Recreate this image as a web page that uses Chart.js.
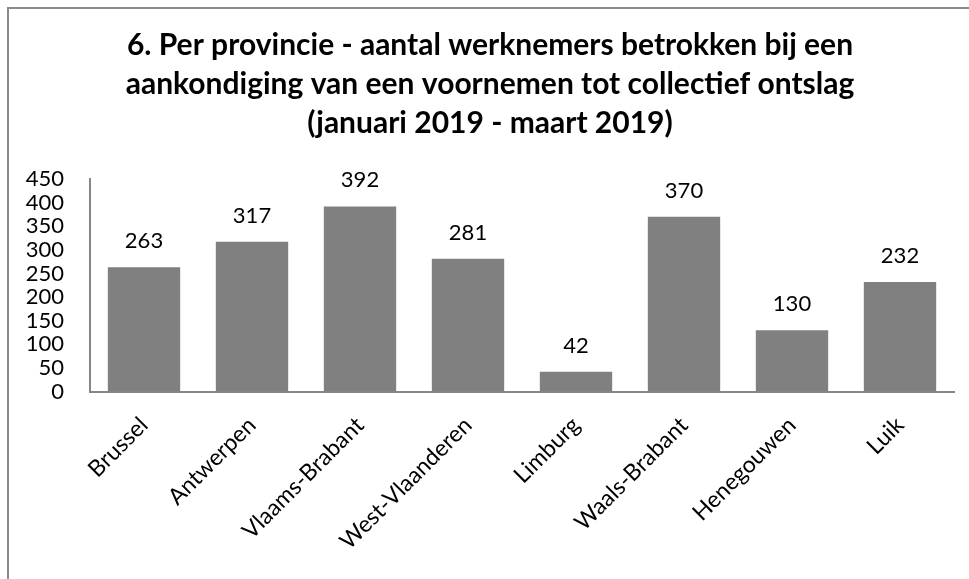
<!DOCTYPE html>
<html lang="nl">
<head>
<meta charset="UTF-8">
<title>Collectief ontslag per provincie</title>
<style>
  body { margin: 0; background: #fff; }
  .wrap { position: relative; width: 969px; height: 579px; overflow: hidden; }
  .frame { position: absolute; left: 7px; top: 7px; width: 1000px; height: 600px;
           border-left: 2px solid #8a8a8a; border-top: 2px solid #8a8a8a; }
  canvas { position: absolute; left: 0; top: 0; }
</style>
</head>
<body>
<div class="wrap">
  <div class="frame"></div>
  <canvas id="myChart" width="969" height="579"></canvas>
</div>
<script src="https://cdn.jsdelivr.net/npm/chart.js"></script>
<script>
  const provincies = ['Brussel', 'Antwerpen', 'Vlaams-Brabant', 'West-Vlaanderen', 'Limburg', 'Waals-Brabant', 'Henegouwen', 'Luik']
  const werknemers = [263, 317, 392, 281, 42, 370, 130, 232]
  const titel = [
    '6. Per provincie - aantal werknemers betrokken bij een',
    'aankondiging van een voornemen tot collectief ontslag',
    '(januari 2019 - maart 2019)'
  ]

  const fontFam = 'Lato, "Open Sans", sans-serif'

  // waarden boven de staven
  const labelsBoven = {
    id: 'labelsBoven',
    afterDatasetsDraw(chart) {
      const ctx = chart.ctx
      ctx.save()
      ctx.font = '22px ' + fontFam
      ctx.fillStyle = '#000'
      ctx.textAlign = 'center'
      ctx.textBaseline = 'alphabetic'
      chart.getDatasetMeta(0).data.forEach((bar, i) => {
        ctx.fillText(werknemers[i], bar.x, bar.y - 19)
      })
      ctx.restore()
    }
  }

  new Chart(document.getElementById('myChart'), {
    type: 'bar',
    data: {
      labels: provincies,
      datasets: [{
        data: werknemers,
        backgroundColor: '#808080',
        categoryPercentage: 0.67,
        barPercentage: 1
      }]
    },
    options: {
      responsive: false,
      animation: false,
      layout: { padding: { left: 26, right: 15, top: 0, bottom: 4 } },
      plugins: {
        legend: { display: false },
        tooltip: { enabled: false },
        title: {
          display: true,
          text: titel,
          color: '#000',
          font: { family: fontFam, size: 30, weight: 'bold', lineHeight: 1.3 },
          padding: { top: 26, bottom: 36 }
        }
      },
      scales: {
        x: {
          grid: { display: false, drawTicks: false },
          border: { display: true, color: '#868686', width: 2 },
          // schuine labels mogen links over de y-as heen
          afterFit(scale) { scale.paddingLeft = 0 },
          ticks: {
            color: '#000',
            font: { family: fontFam, size: 23 },
            minRotation: 45,
            maxRotation: 45,
            autoSkip: false,
            padding: 20
          }
        },
        y: {
          min: 0,
          max: 450,
          grid: { display: false, drawTicks: false },
          border: { display: true, color: '#868686', width: 2 },
          afterFit(scale) { scale.width = 64 },
          ticks: {
            stepSize: 50,
            autoSkip: false,
            color: '#000',
            font: { family: fontFam, size: 22, lineHeight: 1 },
            padding: 26
          }
        }
      }
    },
    plugins: [labelsBoven]
  })
</script>
</body>
</html>
